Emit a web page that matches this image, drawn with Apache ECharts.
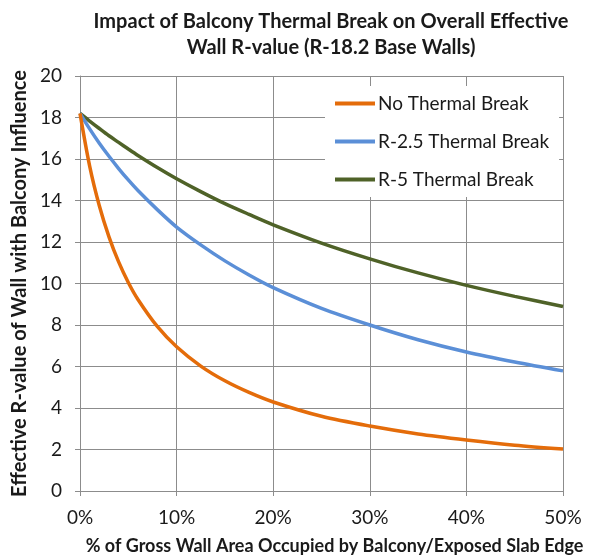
<!DOCTYPE html>
<html>
<head>
<meta charset="utf-8">
<script src="https://cdn.jsdelivr.net/npm/echarts@6/dist/echarts.min.js"></script>
<style>
  html, body { margin: 0; padding: 0; background: #fff; }
  #chart { width: 603px; height: 560px; }
</style>
</head>
<body>
<div id="chart"></div>
<script>
// Share of gross wall area taken by the balcony / exposed slab edge (%)
const slabShare = [0, 1, 2, 3, 4, 5, 6, 8, 10, 12.5, 15, 17.5, 20, 25, 30, 35, 40, 45, 50];

// Effective wall R-value for each balcony detail
const noThermalBreak = [18.2, 15.66, 13.75, 12.25, 11.04, 10.05, 9.23, 7.93, 6.95, 6.02, 5.31, 4.75, 4.29, 3.60, 3.13, 2.75, 2.46, 2.21, 2.02];
const r25ThermalBreak = [18.2, 17.45, 16.76, 16.13, 15.54, 14.99, 14.48, 13.56, 12.72, 11.86, 11.09, 10.41, 9.80, 8.80, 8.00, 7.29, 6.70, 6.22, 5.79];
const r5ThermalBreak = [18.2, 17.83, 17.47, 17.12, 16.80, 16.48, 16.17, 15.59, 15.05, 14.43, 13.85, 13.33, 12.83, 11.95, 11.19, 10.51, 9.91, 9.38, 8.89];

const seriesNames = ['No Thermal Break', 'R-2.5 Thermal Break', 'R-5 Thermal Break'];
const seriesColors = ['#E46C0A', '#5B8FD7', '#4F6228'];
const yTicks = { min: 0, max: 20, step: 2 };
const xTicks = { min: 0, max: 50, step: 10 };

const FONT = 'Lato, Carlito, "Liberation Sans", sans-serif';
const GRID_COLOR = '#8c8c8c';

function pairs(values) {
  return slabShare.map((x, i) => [x, values[i]]);
}

const chart = echarts.init(document.getElementById('chart'), null, { renderer: 'canvas' });

chart.setOption({
  backgroundColor: '#ffffff',
  animation: false,
  textStyle: { fontFamily: FONT, color: '#1a1a1a' },
  title: {
    text: 'Impact of Balcony Thermal Break on Overall Effective\nWall R-value (R-18.2 Base Walls)',
    left: 326,
    top: 4,
    textAlign: 'center',
    textStyle: { fontFamily: FONT, fontSize: 20, fontWeight: 'bold', color: '#1a1a1a', lineHeight: 26 }
  },
  grid: { left: 80, right: 40, top: 76, bottom: 68, containLabel: false },
  legend: {
    orient: 'vertical',
    left: 325,
    top: 86,
    backgroundColor: '#ffffff',
    padding: [8, 10, 8, 10],
    itemGap: 19,
    itemWidth: 40,
    itemHeight: 4,
    icon: 'rect',
    textStyle: { fontFamily: FONT, fontSize: 19, color: '#1a1a1a', padding: [0, 0, 0, -2] },
    data: seriesNames
  },
  xAxis: {
    type: 'value',
    min: xTicks.min,
    max: xTicks.max,
    interval: xTicks.step,
    name: '% of Gross Wall Area Occupied by Balcony/Exposed Slab Edge',
    nameLocation: 'middle',
    nameGap: 46,
    nameTextStyle: { fontFamily: FONT, fontSize: 18, fontWeight: 'bold', color: '#1a1a1a', padding: [0, 0, 0, 26] },
    axisLine: { show: true, lineStyle: { color: GRID_COLOR, width: 1 } },
    axisTick: { show: true, length: 5, lineStyle: { color: GRID_COLOR } },
    axisLabel: { formatter: '{value}%', fontFamily: FONT, fontSize: 19, color: '#1a1a1a', margin: 17 },
    splitLine: { show: true, lineStyle: { color: GRID_COLOR, width: 1 } }
  },
  yAxis: {
    type: 'value',
    min: yTicks.min,
    max: yTicks.max,
    interval: yTicks.step,
    name: 'Effective R-value of Wall with Balcony Influence',
    nameLocation: 'middle',
    nameGap: 48,
    nameTextStyle: { fontFamily: FONT, fontSize: 20, fontWeight: 'bold', color: '#1a1a1a' },
    axisLine: { show: true, lineStyle: { color: GRID_COLOR, width: 1 } },
    axisTick: { show: true, length: 5, lineStyle: { color: GRID_COLOR } },
    axisLabel: { fontFamily: FONT, fontSize: 19, color: '#1a1a1a', margin: 18 },
    splitLine: { show: true, lineStyle: { color: GRID_COLOR, width: 1 } }
  },
  series: [noThermalBreak, r25ThermalBreak, r5ThermalBreak].map((values, i) => ({
    name: seriesNames[i],
    type: 'line',
    data: pairs(values),
    smooth: 0.3,
    showSymbol: false,
    symbol: 'none',
    color: seriesColors[i],
    lineStyle: { color: seriesColors[i], width: 3.5 },
    z: 3 + (2 - i)
  }))
});
</script>
</body>
</html>
